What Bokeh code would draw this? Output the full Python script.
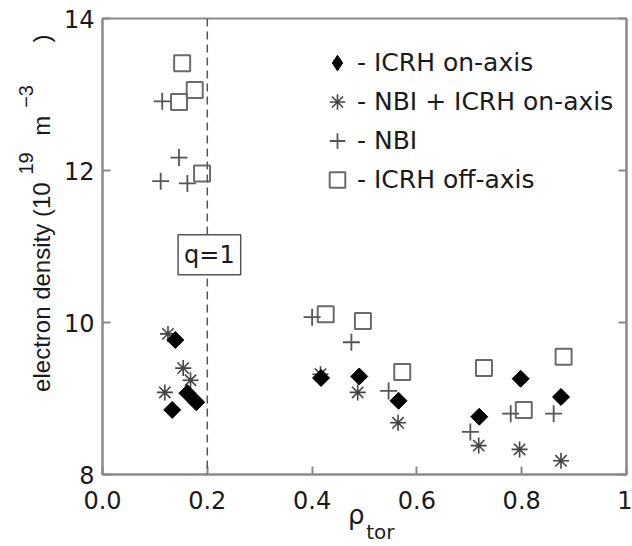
from bokeh.plotting import figure
from bokeh.models import (Span, Label, Legend, LegendItem, ColumnDataSource,
                          LinearAxis, FixedTicker, Range1d)
from bokeh.embed import file_html
from bokeh.resources import INLINE
import math

# ---- data ----
icrh_on_x = [0.139, 0.162, 0.179, 0.133, 0.417, 0.490, 0.565, 0.719, 0.798, 0.875]
icrh_on_y = [9.77, 9.07, 8.95, 8.85, 9.27, 9.29, 8.97, 8.76, 9.26, 9.02]

nbi_icrh_x = [0.125, 0.154, 0.168, 0.119, 0.416, 0.487, 0.564, 0.718, 0.796, 0.875]
nbi_icrh_y = [9.85, 9.40, 9.24, 9.08, 9.32, 9.08, 8.68, 8.38, 8.33, 8.18]

nbi_x = [0.114, 0.146, 0.111, 0.162, 0.400, 0.475, 0.546, 0.702, 0.779, 0.861]
nbi_y = [12.91, 12.17, 11.86, 11.83, 10.07, 9.74, 9.10, 8.56, 8.80, 8.80]

icrh_off_x = [0.152, 0.176, 0.146, 0.190, 0.426, 0.497, 0.572, 0.728, 0.804, 0.880]
icrh_off_y = [13.41, 13.06, 12.90, 11.96, 10.11, 10.02, 9.35, 9.40, 8.85, 9.55]

series_labels = ["- ICRH on-axis", "- NBI + ICRH on-axis", "- NBI", "- ICRH off-axis"]
x_ticks = [0, 0.2, 0.4, 0.6, 0.8, 1]
x_tick_labels = ["0.0", "0.2", "0.4", "0.6", "0.8", "1"]
y_ticks = [8, 10, 12, 14]
q1_position = 0.2
q1_text = "q=1"

NB = "\u00a0"
FONT = "DejaVu Sans"
VFONT = "Liberation Sans"
AXC = "#8a8a8a"
TXT = "#1a1a1a"

p = figure(width=632, height=546, output_backend="svg", toolbar_location=None,
           x_range=Range1d(0, 1), y_range=Range1d(8, 14),
           min_border_left=102, min_border_right=6, min_border_top=18,
           min_border_bottom=72)
p.grid.visible = False
p.outline_line_color = AXC
p.outline_line_width = 2
p.background_fill_color = "white"
p.border_fill_color = "white"

# q=1 dashed line
p.add_layout(Span(location=q1_position, dimension="height", line_color="#555555",
                  line_width=1.5, line_dash="8 5"))

r_sq = p.scatter(icrh_off_x, icrh_off_y, marker="square", size=16,
                 fill_color=None, line_color="#6a6a6a", line_width=2)
r_cr = p.scatter(nbi_x, nbi_y, marker="cross", size=17,
                 line_color="#555555", line_width=1.8)
r_as = p.scatter(nbi_icrh_x, nbi_icrh_y, marker="asterisk", size=16,
                 line_color="#444444", line_width=1.6)
di_src = ColumnDataSource(data=dict(x=icrh_on_x, y=icrh_on_y))
# small diamonds (legend key shape), fully covered by the rotated squares below
r_di_key = p.scatter("x", "y", source=di_src, marker="diamond", size=6,
                     fill_color="black", line_color="black", line_width=1)
r_di = p.scatter("x", "y", source=di_src, marker="square", size=12, angle=math.pi / 4,
                 fill_color="black", line_color="black", line_width=1)

# axes styling
for ax in (p.xaxis[0], p.yaxis[0]):
    ax.axis_line_color = AXC
    ax.axis_line_width = 2
    ax.major_tick_line_color = AXC
    ax.major_tick_line_width = 2
    ax.major_tick_in = 8
    ax.major_tick_out = 0
    ax.minor_tick_line_color = None
    ax.major_label_text_font = FONT
    ax.major_label_text_font_size = "24px"
    ax.major_label_text_color = TXT

p.xaxis.ticker = FixedTicker(ticks=x_ticks)
p.xaxis.major_label_overrides = {t: l for t, l in zip(x_ticks, x_tick_labels)}
p.xaxis.major_label_standoff = 16
p.xaxis.axis_label = "\u03c1" + NB * 2
p.xaxis.axis_label_text_font = FONT
p.xaxis.axis_label_text_font_style = "normal"
p.xaxis.axis_label_text_font_size = "26px"
p.xaxis.axis_label_text_color = TXT
p.xaxis.axis_label_standoff = -12

# subscript "tor" on a second, bare bottom axis
sub_ax = LinearAxis(ticker=FixedTicker(ticks=[]), axis_line_color=None,
                    major_tick_line_color=None, minor_tick_line_color=None,
                    major_label_standoff=0, axis_label=NB * 5 + "tor",
                    axis_label_text_font=FONT, axis_label_text_font_style="normal",
                    axis_label_text_font_size="20px", axis_label_text_color=TXT,
                    axis_label_standoff=-13)
p.add_layout(sub_ax, "below")

p.yaxis.ticker = FixedTicker(ticks=y_ticks)
p.yaxis.major_label_standoff = 8
p.yaxis.axis_label = NB * 10 + "electron density (10" + NB * 7 + "m" + NB * 11 + ")"
p.yaxis.axis_label_text_font = VFONT
p.yaxis.axis_label_text_font_style = "normal"
p.yaxis.axis_label_text_font_size = "24px"
p.yaxis.axis_label_text_color = TXT
p.yaxis.axis_label_standoff = 6

# superscripts "19" and "-3" on a second, bare left axis
sup_ax = LinearAxis(ticker=FixedTicker(ticks=[]), axis_line_color=None,
                    major_tick_line_color=None, minor_tick_line_color=None,
                    major_label_standoff=0,
                    axis_label=NB * 52 + "19" + NB * 8 + "\u22123" + NB * 10,
                    axis_label_text_font=VFONT, axis_label_text_font_style="normal",
                    axis_label_text_font_size="20px", axis_label_text_color=TXT,
                    axis_label_standoff=-12)
p.add_layout(sup_ax, "left")

right = LinearAxis(ticker=FixedTicker(ticks=y_ticks), axis_line_color=AXC,
                   axis_line_width=2, major_tick_line_color=AXC, major_tick_line_width=2,
                   major_tick_in=8, major_tick_out=0, minor_tick_line_color=None,
                   major_label_overrides={t: "" for t in y_ticks},
                   major_label_standoff=0)
p.add_layout(right, "right")

# q=1 box
p.add_layout(Label(x=0.204, y=10.89, text=q1_text, text_font=FONT, text_font_size="24px",
                   text_color=TXT, text_align="center", text_baseline="middle",
                   background_fill_color="white", border_line_color="#555555",
                   border_line_width=1.5, padding=6))

legend = Legend(items=[LegendItem(label=series_labels[0], renderers=[r_di_key]),
                       LegendItem(label=series_labels[1], renderers=[r_as]),
                       LegendItem(label=series_labels[2], renderers=[r_cr]),
                       LegendItem(label=series_labels[3], renderers=[r_sq])],
                location=(215, 275), padding=0, margin=0, spacing=0,
                glyph_width=40, glyph_height=39, label_height=39, label_standoff=0,
                label_text_font=FONT, label_text_font_size="25px",
                label_text_color=TXT, border_line_color=None,
                background_fill_alpha=0)
p.add_layout(legend)

open("out.html", "w").write(file_html(p, INLINE))
